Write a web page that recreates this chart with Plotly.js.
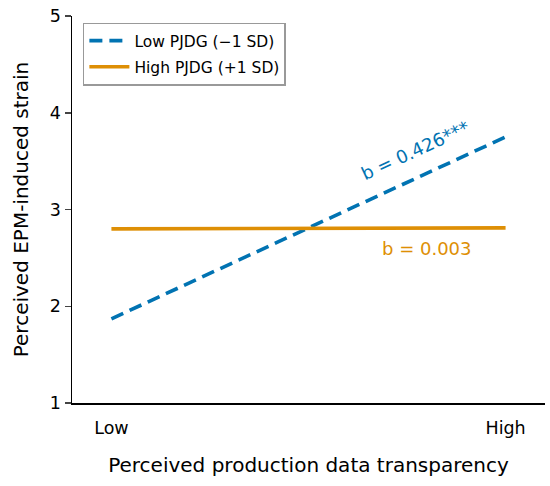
<!DOCTYPE html>
<html><head><meta charset="utf-8">
<script src="https://cdn.plot.ly/plotly-3.0.1.min.js"></script>
<style>body{margin:0;}#chart{width:550px;height:486px;}</style>
</head><body><div id="chart"></div>
<script>
const xCategories = ["Low", "High"];
const xPositions = [0, 1];
const lowPJDG = [1.87, 3.75];
const highPJDG = [2.80, 2.81];
const seriesNames = ["Low PJDG (\u22121 SD)", "High PJDG (+1 SD)"];
const slopeLabels = ["b = 0.426***", "b = 0.003"];
const yTicks = [1, 2, 3, 4, 5];
const blue = "#0173B2", orange = "#DE8F05";
const font = "DejaVu Sans, sans-serif";

const traces = [
  {x: xPositions, y: lowPJDG, mode: "lines", name: seriesNames[0], legendgroup: "a",
   line: {color: blue, width: 3.6, dash: "13px,7px"}},
  {x: xPositions, y: highPJDG, mode: "lines", name: seriesNames[1], legendgroup: "b",
   line: {color: orange, width: 3.6}}
];
const layout = {
  width: 550, height: 486,
  margin: {l: 72, r: 5, t: 16, b: 83},
  paper_bgcolor: "white", plot_bgcolor: "white",
  font: {family: font, color: "#000", size: 16},
  showlegend: true,
  legend: {x: 0.023, y: 0.983, xanchor: "left", yanchor: "top",
    bgcolor: "white", bordercolor: "#999", borderwidth: 1.5, itemwidth: 40,
    font: {family: font, size: 15.5}, tracegroupgap: 3},
  xaxis: {range: [-0.1, 1.1], tickvals: xPositions, ticktext: xCategories,
    showgrid: false, zeroline: false, showline: true, linecolor: "#000", linewidth: 1.5,
    ticks: "outside", ticklen: 8, tickcolor: "rgba(0,0,0,0)", tickfont: {size: 17.5},
    title: {text: "Perceived production data transparency", font: {size: 20}, standoff: 21}},
  yaxis: {range: [1, 5], tickvals: yTicks, showgrid: false, zeroline: false,
    showline: true, linecolor: "#000", linewidth: 1.5, ticks: "outside", ticklen: 6,
    tickwidth: 1.5, tickfont: {size: 17.5},
    title: {text: "Perceived EPM-induced strain", font: {size: 20}, standoff: 16}},
  annotations: [
    {x: 0.77, y: 3.61, xref: "x", yref: "y", text: slopeLabels[0], showarrow: false,
     textangle: -24.7, font: {family: font, size: 18, color: blue}},
    {x: 0.80, y: 2.60, xref: "x", yref: "y", text: slopeLabels[1], showarrow: false,
     font: {family: font, size: 18, color: orange}}
  ]
};
Plotly.newPlot("chart", traces, layout, {displayModeBar: false, staticPlot: true});
</script></body></html>
